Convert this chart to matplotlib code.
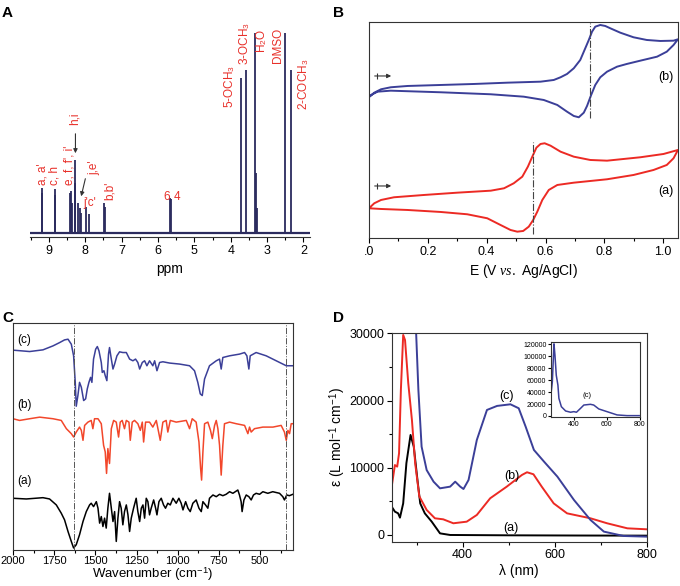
import numpy as np
import matplotlib.pyplot as plt
from matplotlib.ticker import MultipleLocator

plt.rcParams['font.family'] = ['Liberation Sans', 'DejaVu Sans']
plt.rcParams['mathtext.fontset'] = 'custom'
plt.rcParams['mathtext.rm'] = 'Liberation Sans'
plt.rcParams['mathtext.it'] = 'Liberation Serif:italic'

NAVY = '#2b2b5e'
BLUE = '#3b3f98'
RED = '#ec2a24'
IRRED = '#f2472b'
LBL = '#e8302a'

# ---- A: 1H NMR peak list (ppm, relative height) ----
nmr_ppm = [9.20, 9.18, 8.84, 8.82, 8.43, 8.40, 8.37, 8.29, 8.27, 8.19, 8.15, 8.12,
           7.98, 7.89, 7.49, 7.46, 5.68, 5.63, 3.73, 3.57, 3.34, 3.31, 3.28, 2.52, 2.33]
nmr_h = [45, 40, 44, 38, 40, 42, 30, 73, 50, 30, 25, 20,
         26, 19, 30, 26, 35, 34, 155, 163, 230, 60, 25, 230, 163]
nmr_labels_v = ["a, a'", "c, h", "e, f, f', i'", "h,i", "j,e'", "b,b'",
                "5-OCH$_3$", "3-OCH$_3$", "H$_2$O", "DMSO", "2-COCH$_3$"]

# ---- B: cyclic voltammograms (E in V, current in arb. units) ----
E_b = [0.0, 0.018, 0.041, 0.074, 0.131, 0.244, 0.357, 0.47, 0.583, 0.628, 0.651, 0.673,
       0.696, 0.718, 0.735, 0.747, 0.758, 0.769, 0.786, 0.803, 0.820, 0.854, 0.899, 0.944,
       0.990, 1.035, 1.05,
       1.035, 1.012, 0.979, 0.922, 0.876, 0.843, 0.809, 0.786, 0.769, 0.755, 0.741, 0.730,
       0.713, 0.696, 0.673, 0.640, 0.594, 0.526, 0.414, 0.244, 0.074, 0.029, 0.012, 0.0]
i_b = [141, 145.3, 148.7, 150.7, 152, 153, 154, 155.3, 156.3, 158, 160.7, 164,
       169.7, 178, 189.7, 198, 206.3, 211.3, 213, 212, 209.7, 205.3, 200.7, 198,
       197, 197.3, 198.7,
       193, 186.3, 181.3, 177.3, 174, 171.3, 166.3, 160.7, 153, 143, 132, 125.3,
       120.7, 122, 126.3, 133, 138, 141.3, 143.7, 145.7, 147.3, 146.3, 143.7, 141]
E_a = [0.0, 0.018, 0.041, 0.085, 0.187, 0.30, 0.414, 0.459, 0.492, 0.521, 0.540, 0.555,
       0.569, 0.583, 0.597, 0.617, 0.651, 0.696, 0.752, 0.809, 0.922, 1.001, 1.05,
       1.035, 1.012, 0.967, 0.899, 0.809, 0.696, 0.640, 0.611, 0.589, 0.572, 0.558, 0.543,
       0.524, 0.504, 0.481, 0.447, 0.402, 0.334, 0.244, 0.131, 0.041, 0.0]
i_a = [29.7, 34.7, 38, 40.7, 43, 45.3, 47.3, 49.7, 54.7, 61.3, 71.3, 81.3,
       90.3, 94, 94.7, 92.3, 86.3, 81.3, 78, 77.3, 80.7, 84, 88,
       79.7, 73, 68, 63, 58.7, 55.3, 53, 48, 38, 26.3, 18, 11.3,
       7, 6.3, 8, 13, 19.7, 23.7, 26, 28, 29, 29.7]

# ---- C: FT-IR spectra (wavenumber, transmittance offset) ----
ir_c_wn = [2000, 1899, 1818, 1757, 1717, 1687, 1666, 1646, 1632, 1622, 1616, 1606, 1596, 1585,
           1571, 1559, 1549, 1539, 1529, 1521, 1511, 1498, 1488, 1478, 1464, 1458, 1448, 1440,
           1430, 1420, 1414, 1403, 1393, 1383, 1369, 1353, 1333, 1312, 1292, 1272, 1256, 1242,
           1231, 1215, 1201, 1187, 1171, 1151, 1140, 1126, 1110, 1090, 1049, 989, 928, 898, 878,
           863, 851, 837, 807, 766, 746, 736, 726, 685, 625, 594, 580, 568, 560, 524, 463, 402,
           341, 301]
ir_c_t = [200.7, 199.3, 201, 205, 208.3, 211, 211.7, 206.7, 195, 168.3, 144.3, 155, 168.3, 163.3,
          150, 151.7, 161.7, 168.3, 173.3, 168.3, 191.7, 201.7, 204.3, 200, 188.3, 178.3, 180, 175,
          170, 196.7, 203.3, 191.7, 181.7, 186.7, 195, 199, 198.3, 198.3, 191.7, 190, 191.7, 188.3,
          181.7, 188.3, 190, 185, 190, 185, 190, 180, 188.3, 189, 187.7, 186.7, 185, 180, 168.3,
          156.7, 155, 171.7, 185, 190, 191.7, 181.7, 193.3, 195, 196.7, 198.3, 195, 181.7, 195,
          198.3, 195, 190, 185, 185]
ir_b_wn = [2000, 1960, 1899, 1838, 1757, 1707, 1676, 1646, 1632, 1616, 1596, 1585, 1575, 1565,
           1545, 1525, 1515, 1505, 1484, 1464, 1450, 1440, 1432, 1424, 1414, 1403, 1389, 1373,
           1359, 1349, 1337, 1323, 1312, 1296, 1288, 1276, 1262, 1242, 1227, 1215, 1207, 1195,
           1171, 1151, 1130, 1106, 1090, 1070, 1060, 1045, 1009, 948, 928, 912, 888, 871, 861,
           855, 847, 837, 817, 801, 790, 776, 766, 756, 746, 736, 726, 716, 685, 645, 594, 574,
           564, 554, 534, 483, 422, 372, 352, 341, 331, 321, 311, 301]
ir_b_t = [131.7, 130, 131.7, 133.3, 131.7, 130, 121.7, 116.7, 113.3, 118.3, 123.3, 120, 110, 125,
          128.3, 130, 121.7, 131.7, 131.7, 126.7, 105, 98.3, 76.7, 101.7, 86.7, 121.7, 130, 128.3,
          113.3, 128.3, 130, 121.7, 130, 128.3, 110, 128.3, 130, 126.7, 120, 128.3, 108.3, 128.3,
          128.3, 123.3, 130, 110, 128.3, 130, 118.3, 130, 128.3, 130, 121.7, 131.7, 128.3, 108.3,
          81.7, 70, 98.3, 126.7, 128.3, 120, 111.7, 125, 130, 121.7, 105, 75, 105, 126.7, 128.3,
          126.7, 125, 116.7, 123.3, 118.3, 121.7, 123.3, 123.3, 125, 118.3, 110, 120, 116.7, 126.7,
          126.7]
ir_a_wn = [2000, 1919, 1818, 1778, 1737, 1707, 1687, 1666, 1646, 1632, 1616, 1596, 1575, 1555,
           1535, 1525, 1511, 1494, 1484, 1474, 1464, 1454, 1444, 1434, 1424, 1414, 1403, 1393,
           1383, 1373, 1363, 1353, 1343, 1333, 1323, 1312, 1302, 1292, 1282, 1268, 1252, 1242,
           1231, 1221, 1211, 1201, 1191, 1181, 1171, 1161, 1146, 1134, 1126, 1114, 1100, 1086,
           1074, 1060, 1045, 1029, 1009, 993, 979, 968, 952, 938, 924, 908, 888, 871, 857, 847,
           831, 817, 807, 786, 766, 746, 726, 706, 685, 665, 635, 625, 615, 609, 598, 584, 568,
           554, 540, 524, 503, 483, 453, 423, 382, 362, 352, 338, 322, 301]
ir_a_t = [51.7, 51, 52.3, 51, 45, 36.7, 30, 18.3, 8.3, 1.7, 5, 15, 28.3, 38.3,
          45, 46.7, 43.3, 48.3, 41.7, 26.7, 33.3, 23.3, 31.7, 21.7, 41.7, 56.7, 41.7, 28.3,
          38.3, 8.3, 31.7, 48.3, 41.7, 25, 38.3, 45, 35, 18.3, 31.7, 41.7, 51.7, 38.3,
          28.3, 41.7, 45, 31.7, 51.7, 48.3, 35, 41.7, 50, 41.7, 35, 48.3, 51.7, 45,
          41.7, 46.7, 45, 51.7, 46.7, 51.7, 46.7, 40, 48.3, 41.7, 38.3, 46.7, 50, 41.7, 38.3, 48.3,
          45, 41.7, 51.7, 55, 53.3, 55.7, 54.3, 55.7, 58.3, 56.7, 60, 55, 48.3, 38.3, 50, 55, 53.3,
          50, 55, 56.7, 55.7, 58.3, 56.7, 58.3, 56.7, 53.3, 50, 55, 54.3, 55.7]

# ---- D: UV-vis spectra (nm, epsilon) ----
uv_a_nm = [246, 253, 260, 264, 271, 278, 287, 294, 302, 308, 318, 333, 351, 373, 500, 650, 800]
uv_a_e = [4210, 3470, 3220, 2580, 4700, 10700, 14880, 13140, 8190, 4700, 3220, 1980, 240, 0,
          -50, -80, -100]
uv_b_nm = [246, 253, 258, 262, 266, 271, 275, 282, 290, 297, 306, 322, 340, 358, 380, 409, 431,
           460, 496, 529, 540, 554, 572, 598, 627, 678, 714, 758, 801]
uv_b_e = [7190, 10400, 10170, 12150, 21600, 29760, 29000, 22600, 17100, 10700, 5750, 3720, 2480,
          2330, 1740, 1980, 2980, 5460, 7190, 8930, 9330, 9030, 7190, 4700, 3220, 2480, 1740, 990,
          840]
uv_c_nm = [298, 304, 311, 322, 337, 351, 373, 384, 395, 402, 413, 431, 453, 475, 504, 522, 537,
           555, 577, 606, 642, 678, 707, 750, 801]
uv_c_e = [32000, 21600, 13140, 9660, 7930, 6940, 7190, 7930, 7190, 6840, 8180, 14140, 18600,
          19200, 19440, 18850, 16120, 12650, 10910, 8680, 5210, 2230, 500, -150, -250]
inset_nm = [259, 269, 279, 285, 293, 303, 309, 324, 350, 380, 400, 416, 441, 461, 501, 521, 552,
            602, 663, 724, 798]
inset_e = [32200, 57200, 121000, 101700, 68300, 51700, 29500, 15500, 8300, 6200, 7200, 6200,
           12800, 18300, 19500, 18300, 11700, 7200, 1700, 500, 500]

fig = plt.figure(figsize=(6.8, 5.86), dpi=100)


def style(ax, fs):
    for s in ax.spines.values():
        s.set_linewidth(0.8)
        s.set_color('#333333')
    ax.tick_params(which='both', direction='out', width=0.8, labelsize=fs, pad=2)
    ax.tick_params(which='major', length=3.5)
    ax.tick_params(which='minor', length=2)


# ---------------- A ----------------
axA = fig.add_axes([0.0441, 0.5956, 0.4118, 0.348])
axA.axhline(0, color=NAVY, lw=1.6)
axA.vlines(nmr_ppm, 0, nmr_h, color=NAVY, lw=1.3)
axA.set_xlim(9.52, 1.82)
axA.set_ylim(-4, 200)
axA.set_xticks(range(2, 10))
axA.xaxis.set_minor_locator(MultipleLocator(0.5))
axA.set_yticks([])
for s in ['left', 'right', 'top']:
    axA.spines[s].set_visible(False)
style(axA, 9)
axA.set_xlabel('ppm', fontsize=10, labelpad=4)
lab_pos = [(9.17, 48), (8.84, 48), (8.43, 48), (8.29, 108), (7.76, 58), (7.32, 33),
           (4.03, 125), (3.62, 168), (3.16, 180), (2.70, 170), (2.01, 123)]
for t, (x, y) in zip(nmr_labels_v, lab_pos):
    axA.text(x, y, t, rotation=90, ha='center', va='bottom', color=LBL, fontsize=8.5,
             clip_on=False)
axA.text(7.88, 30, "j'c'", ha='center', va='center', color=LBL, fontsize=8.5)
axA.text(5.77, 36, '6', ha='center', va='center', color=LBL, fontsize=8.5)
axA.text(5.47, 36, '4', ha='center', va='center', color=LBL, fontsize=8.5)
axA.annotate('', xy=(8.27, 77), xytext=(8.27, 102),
             arrowprops=dict(arrowstyle='-|>', color='#333333', lw=0.8, mutation_scale=6))
axA.annotate('', xy=(8.13, 34), xytext=(7.98, 57),
             arrowprops=dict(arrowstyle='-|>', color='#333333', lw=0.8, mutation_scale=6))

# ---------------- B ----------------
axB = fig.add_axes([0.5426, 0.5939, 0.4544, 0.3686])
axB.plot(E_b, i_b, color=BLUE, lw=1.4)
axB.plot(E_a, i_a, color=RED, lw=1.4)
axB.vlines(0.752, 120, 215, color='#444444', lw=0.8, linestyles='dashdot')
axB.vlines(0.558, 4, 96, color='#444444', lw=0.8, linestyles='dashdot')
for y in (162, 52):
    axB.annotate('', xy=(0.085, y), xytext=(0.01, y),
                 arrowprops=dict(arrowstyle='-|>', color='#333333', lw=0.8, mutation_scale=6))
    axB.plot([0.026], [y], marker='|', color='#333333', ms=5, mew=0.8)
axB.text(1.035, 161, '(b)', ha='right', va='center', fontsize=9)
axB.text(1.035, 47, '(a)', ha='right', va='center', fontsize=9)
axB.set_xlim(0, 1.05)
axB.set_ylim(0, 216)
axB.set_xticks([0, 0.2, 0.4, 0.6, 0.8, 1.0])
axB.set_xticklabels(['.0', '0.2', '0.4', '0.6', '0.8', '1.0'])
axB.xaxis.set_minor_locator(MultipleLocator(0.1))
axB.set_yticks([])
style(axB, 9)
axB.set_xlabel(r'E (V $\mathit{vs.}$ Ag/AgCl)', fontsize=10, labelpad=3)

# ---------------- C ----------------
axC = fig.add_axes([0.0191, 0.062, 0.4118, 0.3868])
axC.plot(ir_c_wn, ir_c_t, color=BLUE, lw=1.1)
axC.plot(ir_b_wn, ir_b_t, color=IRRED, lw=1.1)
axC.plot(ir_a_wn, ir_a_t, color='black', lw=1.1)
axC.axvline(1632, color='#555555', lw=0.7, ls='dashdot')
axC.axvline(340, color='#555555', lw=0.7, ls='dashdot')
axC.text(1975, 211, '(c)', fontsize=8.5, va='center')
axC.text(1975, 146, '(b)', fontsize=8.5, va='center')
axC.text(1975, 69, '(a)', fontsize=8.5, va='center')
axC.set_xlim(2000, 300)
axC.set_ylim(0, 228)
axC.set_xticks([2000, 1750, 1500, 1250, 1000, 750, 500])
axC.xaxis.set_minor_locator(MultipleLocator(125))
axC.set_yticks([])
style(axC, 8)
axC.tick_params(axis='x', pad=1)
axC.set_xlabel('Wavenumber (cm$^{-1}$)', fontsize=9.5, labelpad=0)

# ---------------- D ----------------
axD = fig.add_axes([0.576, 0.0756, 0.375, 0.3556])
axD.plot(uv_a_nm, uv_a_e, color='black', lw=1.4)
axD.plot(uv_b_nm, uv_b_e, color=RED, lw=1.4)
axD.plot(uv_c_nm, uv_c_e, color=BLUE, lw=1.4)
axD.text(496, 20700, '(c)', ha='center', va='center', fontsize=9)
axD.text(507, 8800, '(b)', ha='center', va='center', fontsize=9)
axD.text(505, 1000, '(a)', ha='center', va='center', fontsize=9)
axD.set_xlim(246, 800)
axD.set_ylim(-1000, 30000)
axD.set_xticks([400, 600, 800])
axD.xaxis.set_minor_locator(MultipleLocator(100))
axD.set_yticks([0, 10000, 20000, 30000])
axD.yaxis.set_minor_locator(MultipleLocator(5000))
style(axD, 9)
axD.set_xlabel('λ (nm)', fontsize=10, labelpad=2)
axD.set_ylabel('ε (L mol$^{-1}$ cm$^{-1}$)', fontsize=10, labelpad=1)

axI = fig.add_axes([0.8096, 0.2892, 0.1316, 0.1271])
axI.plot(inset_nm, inset_e, color=BLUE, lw=1.1)
axI.text(481, 33800, '(c)', ha='center', va='center', fontsize=5.5)
axI.set_xlim(258, 803)
axI.set_ylim(-1000, 124000)
axI.set_xticks([400, 600, 800])
axI.set_yticks(range(0, 120001, 20000))
style(axI, 5)
axI.tick_params(which='major', length=2, pad=1)

# panel letters
for t, x, y in [('A', 0.003, 0.978), ('B', 0.49, 0.978), ('C', 0.003, 0.457), ('D', 0.49, 0.457)]:
    fig.text(x, y, t, fontsize=11, fontweight='bold', va='center')

fig.savefig('out.png', dpi=100)
